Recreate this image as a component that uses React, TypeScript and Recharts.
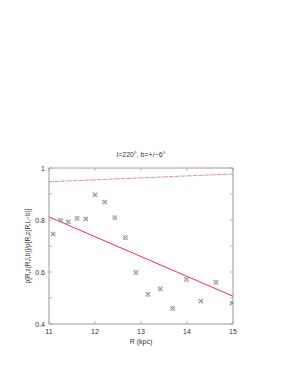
import { ComposedChart, Line, Scatter, XAxis, YAxis, Label } from 'recharts';

const rValues = [11.09, 11.25, 11.42, 11.61, 11.8, 12.0, 12.21, 12.43, 12.66, 12.89, 13.15, 13.42, 13.69, 13.99, 14.3, 14.63, 14.98];
const ratioValues = [0.746, 0.799, 0.793, 0.806, 0.804, 0.897, 0.869, 0.809, 0.732, 0.598, 0.514, 0.535, 0.46, 0.572, 0.488, 0.56, 0.48];

const fitR = [11, 15];
const fitRatio = [0.812, 0.507];
const upperR = [11, 15];
const upperRatio = [0.947, 0.977];

const xTicks = [11, 11.5, 12, 12.5, 13, 13.5, 14, 14.5, 15];
const yTicks = [0.4, 0.5, 0.6, 0.7, 0.8, 0.9, 1];
const yLabelled = [0.4, 0.6, 0.8, 1];
const title = 'l=220°, b=+/−6°';

const points = rValues.map((r, i) => ({ r, v: ratioValues[i] }));
const fit = fitR.map((r, i) => ({ r, v: fitRatio[i] }));
const upper = upperR.map((r, i) => ({ r, v: upperRatio[i] }));

const FONT = '"Liberation Sans", Arial, sans-serif';
const axisColor = '#999';
const TICK = 3;

function BottomTick(props: any) {
  const { x, y, payload } = props;
  const v = payload.value;
  return (
    <g>
      <line x1={x} y1={y} x2={x} y2={y - TICK} stroke={axisColor} strokeWidth={0.7} />
      {Number.isInteger(v) && (
        <text x={x} y={y + 10} textAnchor="middle" fill="#333" fontSize={7} fontFamily={FONT}>
          {v}
        </text>
      )}
    </g>
  );
}

function TopTick(props: any) {
  const { x, y } = props;
  return <line x1={x} y1={y} x2={x} y2={y + TICK} stroke={axisColor} strokeWidth={0.7} />;
}

function LeftTick(props: any) {
  const { x, y, payload } = props;
  const v = payload.value;
  const labelled = yLabelled.some((m) => Math.abs(m - v) < 1e-6);
  return (
    <g>
      <line x1={x} y1={y} x2={x + TICK} y2={y} stroke={axisColor} strokeWidth={0.7} />
      {labelled && (
        <text x={x - 4} y={y + 2.5} textAnchor="end" fill="#333" fontSize={7} fontFamily={FONT}>
          {String(Math.round(v * 10) / 10)}
        </text>
      )}
    </g>
  );
}

function RightTick(props: any) {
  const { x, y } = props;
  return <line x1={x} y1={y} x2={x - TICK} y2={y} stroke={axisColor} strokeWidth={0.7} />;
}

function Marker(props: any) {
  const { cx, cy } = props;
  const s = 1.9;
  return (
    <g strokeWidth={0.7} fill="none">
      <rect x={cx - s} y={cy - s} width={s * 2} height={s * 2} stroke="#bbb" />
      <line x1={cx - s} y1={cy - s} x2={cx + s} y2={cy + s} stroke="#555" />
      <line x1={cx - s} y1={cy + s} x2={cx + s} y2={cy - s} stroke="#555" />
    </g>
  );
}

export default function App() {
  return (
    <div style={{ position: 'absolute', left: 0, top: 0, width: 282, height: 365 }}>
      <div
        style={{
          position: 'absolute',
          left: 41,
          width: 200,
          top: 151,
          textAlign: 'center',
          fontFamily: FONT,
          fontSize: 7,
          color: '#333',
        }}
      >
        {title}
      </div>
      <ComposedChart width={282} height={365} margin={{ top: 167, right: 48, bottom: 0, left: 0 }}>
        <XAxis
          xAxisId="b"
          dataKey="r"
          type="number"
          domain={[11, 15]}
          ticks={xTicks}
          allowDataOverflow
          height={41}
          stroke={axisColor}
          tickLine={false}
          tickSize={0}
          tickMargin={0}
          tick={<BottomTick />}
        >
          <Label value="R (kpc)" position="insideBottom" offset={21} style={{ fill: '#333', fontSize: 7, fontFamily: FONT }} />
        </XAxis>
        <XAxis
          xAxisId="t"
          orientation="top"
          dataKey="r"
          type="number"
          domain={[11, 15]}
          ticks={xTicks}
          allowDataOverflow
          height={1}
          stroke={axisColor}
          tickLine={false}
          tickSize={0}
          tickMargin={0}
          tick={<TopTick />}
        />
        <YAxis
          yAxisId="l"
          dataKey="v"
          type="number"
          domain={[0.4, 1]}
          ticks={yTicks}
          allowDataOverflow
          width={49}
          stroke={axisColor}
          tickLine={false}
          tickSize={0}
          tickMargin={0}
          tick={<LeftTick />}
        >
          <Label
            value="ρ[R,z(R,l,b)]/ρ[R,z(R,l,−b)]"
            angle={-90}
            position="insideLeft"
            offset={28}
            style={{ textAnchor: 'middle', fill: '#333', fontSize: 6.5, fontFamily: FONT }}
          />
        </YAxis>
        <YAxis
          yAxisId="r"
          orientation="right"
          dataKey="v"
          type="number"
          domain={[0.4, 1]}
          ticks={yTicks}
          allowDataOverflow
          width={1}
          stroke={axisColor}
          tickLine={false}
          tickSize={0}
          tickMargin={0}
          tick={<RightTick />}
        />
        <Line
          xAxisId="b"
          yAxisId="l"
          data={upper}
          dataKey="v"
          stroke="#f08080"
          strokeWidth={1}
          strokeDasharray="3 3"
          dot={false}
          isAnimationActive={false}
        />
        <Line
          xAxisId="b"
          yAxisId="l"
          data={upper}
          dataKey="v"
          stroke="#a8a8a8"
          strokeWidth={1}
          strokeDasharray="1.5 4.5"
          strokeDashoffset={-3.5}
          dot={false}
          isAnimationActive={false}
        />
        <Line
          xAxisId="b"
          yAxisId="l"
          data={fit}
          dataKey="v"
          stroke="#ee3344"
          strokeWidth={1}
          dot={false}
          isAnimationActive={false}
        />
        <Scatter xAxisId="b" yAxisId="l" data={points} dataKey="v" shape={<Marker />} isAnimationActive={false} />
      </ComposedChart>
    </div>
  );
}
